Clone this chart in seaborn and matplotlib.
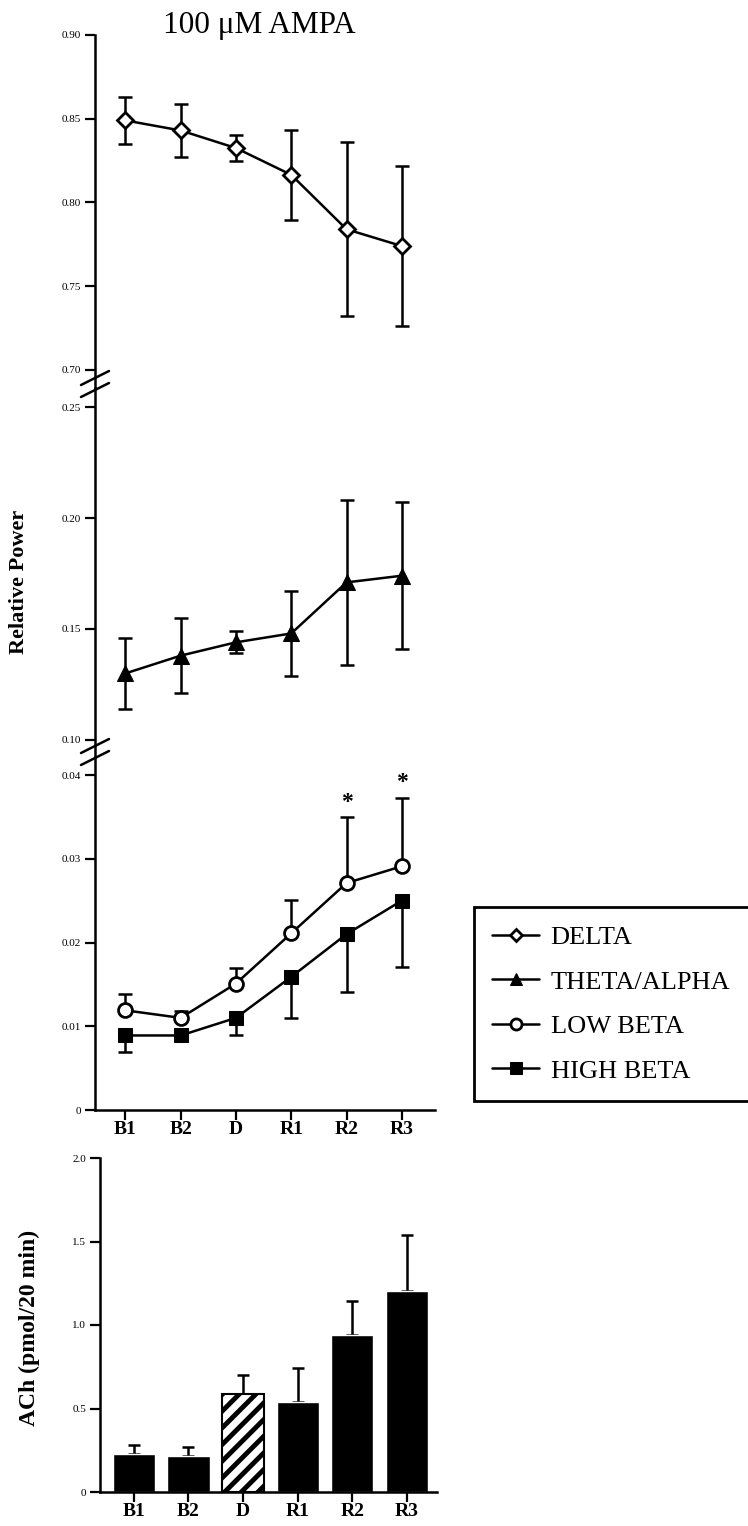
import numpy as np
import pandas as pd
import matplotlib
matplotlib.use("Agg")
import matplotlib.pyplot as plt
import seaborn as sns
from matplotlib.lines import Line2D

# ---------------- data ----------------
periods = ["B1", "B2", "D", "R1", "R2", "R3"]
delta_mean = [0.849, 0.843, 0.8325, 0.8165, 0.784, 0.774]
delta_sem = [0.014, 0.016, 0.008, 0.027, 0.052, 0.048]
theta_mean = [0.130, 0.138, 0.144, 0.148, 0.171, 0.174]
theta_sem = [0.016, 0.017, 0.005, 0.019, 0.037, 0.033]
lowbeta_mean = [0.0119, 0.0110, 0.0151, 0.0211, 0.0271, 0.0291]
lowbeta_sem = [0.0020, 0.0008, 0.0019, 0.0040, 0.0079, 0.0082]
highbeta_mean = [0.0089, 0.0089, 0.0110, 0.0159, 0.0210, 0.0250]
highbeta_sem = [0.0020, 0.0005, 0.0021, 0.0049, 0.0069, 0.0079]
ach_mean = [0.230, 0.214, 0.584, 0.536, 0.940, 1.204]
ach_sem = [0.050, 0.056, 0.116, 0.204, 0.206, 0.336]
significant = ["R2", "R3"]
drug_period = "D"
legend_labels = ["DELTA", "THETA/ALPHA", "LOW BETA", "HIGH BETA"]

delta_ticks = [0.70, 0.75, 0.80, 0.85, 0.90]
delta_ticklabels = ["0.70", "0.75", "0.80", "0.85", "0.90"]
theta_ticks = [0.10, 0.15, 0.20, 0.25]
theta_ticklabels = ["0.10", "0.15", "0.20", "0.25"]
beta_ticks = [0.0, 0.01, 0.02, 0.03, 0.04]
beta_ticklabels = ["0", "0.01", "0.02", "0.03", "0.04"]
ach_ticks = [0.0, 0.5, 1.0, 1.5, 2.0]
ach_ticklabels = ["0", "0.5", "1.0", "1.5", "2.0"]

title = "100 \u03bcM AMPA"
ylabel_power = "Relative Power"
ylabel_ach = "ACh (pmol/20 min)"

# ---------------- style ----------------
sns.set_theme(style="white")
plt.rcParams["font.family"] = ["Liberation Serif", "DejaVu Serif"]
plt.rcParams["hatch.linewidth"] = 3.5
plt.rcParams["axes.linewidth"] = 1.8

W, H = 748, 1526
fig = plt.figure(figsize=(W / 100, H / 100), dpi=100)

def fx(px):
    return px / W

def fy(px):
    return 1 - px / H

x = np.arange(len(periods))
df = pd.DataFrame({"x": x, "delta": delta_mean, "theta": theta_mean,
                   "low": lowbeta_mean, "high": highbeta_mean,
                   "period": periods, "ach": ach_mean})

left_px = 95
xlim = (-0.55, 5.6)
width_px = 340

ax1 = fig.add_axes([fx(left_px), fy(388), fx(width_px), (388 - 35) / H])
ax2 = fig.add_axes([fx(left_px), fy(757), fx(width_px), (757 - 388) / H])
ax3 = fig.add_axes([fx(left_px), fy(1110), fx(width_px), (1110 - 757) / H])
ax4 = fig.add_axes([fx(100), fy(1492), fx(337), (1492 - 1158) / H])

LW = 1.8
XT_SIZE = 14
handles = []

def style_axis(ax, ticks, ticklabels, ylim, show_bottom):
    ax.set_ylim(*ylim)
    ax.set_xlim(*xlim)
    ax.set_yticks(ticks)
    ax.set_yticklabels(ticklabels)
    for s in ["top", "right"]:
        ax.spines[s].set_visible(False)
    ax.spines["left"].set_color("black")
    ax.spines["left"].set_linewidth(LW)
    ax.tick_params(axis="y", direction="out", length=7, width=1.6,
                   labelsize=8, pad=3, left=True, colors="black")
    ax.set_xlabel("")
    ax.set_ylabel("")
    if show_bottom:
        ax.spines["bottom"].set_color("black")
        ax.spines["bottom"].set_linewidth(LW)
        ax.set_xticks(x)
        ax.set_xticklabels(periods, fontweight="bold")
        ax.tick_params(axis="x", direction="out", length=7, width=1.6,
                       labelsize=XT_SIZE, pad=1, bottom=True, colors="black")
    else:
        ax.spines["bottom"].set_visible(False)
        ax.set_xticks([])
    ax.patch.set_alpha(0)

# Panel 1: delta
sns.lineplot(data=df, x="x", y="delta", ax=ax1, color="black", lw=LW,
             marker="D", markersize=8, markerfacecolor="white",
             markeredgecolor="black", markeredgewidth=2, zorder=3)
handles.append(ax1.lines[0])
ax1.errorbar(x, delta_mean, yerr=delta_sem, fmt="none", ecolor="black",
             elinewidth=LW, capsize=5, capthick=LW, zorder=2)
style_axis(ax1, delta_ticks, delta_ticklabels, (0.68925, 0.90), False)

# Panel 2: theta/alpha
sns.lineplot(data=df, x="x", y="theta", ax=ax2, color="black", lw=LW,
             marker="^", markersize=11, markerfacecolor="black",
             markeredgecolor="black", zorder=3)
handles.append(ax2.lines[0])
ax2.errorbar(x, theta_mean, yerr=theta_sem, fmt="none", ecolor="black",
             elinewidth=LW, capsize=5, capthick=LW, zorder=2)
style_axis(ax2, theta_ticks, theta_ticklabels, (0.09234, 0.25856), False)

# Panel 3: low / high beta
zeros = np.zeros(len(periods))
sns.lineplot(data=df, x="x", y="high", ax=ax3, color="black", lw=LW,
             marker="s", markersize=10, markerfacecolor="black",
             markeredgecolor="black", zorder=3)
high_line = ax3.lines[0]
ax3.errorbar(x, highbeta_mean, yerr=[highbeta_sem, zeros], fmt="none",
             ecolor="black", elinewidth=LW, capsize=5, capthick=LW, zorder=2)
sns.lineplot(data=df, x="x", y="low", ax=ax3, color="black", lw=LW,
             marker="o", markersize=10, markerfacecolor="white",
             markeredgecolor="black", markeredgewidth=2, zorder=4)
low_line = [l for l in ax3.lines if l.get_marker() == "o"][0]
ax3.errorbar(x, lowbeta_mean, yerr=[zeros, lowbeta_sem], fmt="none",
             ecolor="black", elinewidth=LW, capsize=5, capthick=LW, zorder=2)
handles.append(low_line)
handles.append(high_line)
for p in significant:
    i = periods.index(p)
    ax3.annotate("*", (x[i], lowbeta_mean[i] + lowbeta_sem[i]),
                 xytext=(0, 3), textcoords="offset points",
                 ha="center", va="bottom", fontsize=17, fontweight="bold",
                 color="black")
style_axis(ax3, beta_ticks, beta_ticklabels, (0.0, 0.04215), True)

# Panel 4: ACh bars
sns.barplot(data=df, x="period", y="ach", ax=ax4, color="black",
            width=0.77, saturation=1, errorbar=None)
di = periods.index(drug_period)
bar = ax4.patches[di]
bar.set_facecolor("white")
bar.set_edgecolor("black")
bar.set_hatch("//")
bar.set_linewidth(1.5)
ax4.errorbar(x, ach_mean, yerr=[zeros, ach_sem], fmt="none", ecolor="black",
             elinewidth=LW, capsize=4.5, capthick=LW, zorder=1)
for p in ax4.patches:
    p.set_zorder(2)
ax4.set_xlim(-0.62, 5.55)
ax4.set_ylim(0, 2.0)
ax4.set_yticks(ach_ticks)
ax4.set_yticklabels(ach_ticklabels)
ax4.set_xticks(x)
ax4.set_xticklabels(periods, fontweight="bold")
for s in ["top", "right"]:
    ax4.spines[s].set_visible(False)
for s in ["left", "bottom"]:
    ax4.spines[s].set_color("black")
    ax4.spines[s].set_linewidth(LW)
ax4.tick_params(axis="y", direction="out", length=7, width=1.6,
                labelsize=8, pad=3, left=True, colors="black")
ax4.tick_params(axis="x", direction="out", length=7, width=1.6,
                labelsize=XT_SIZE, pad=1, bottom=True, colors="black")
ax4.set_xlabel("")
ax4.set_ylabel("")

# break marks on the shared y axis
for yc in (384, 752):
    for dy in (-6, 6):
        fig.add_artist(Line2D([fx(81), fx(109)],
                              [fy(yc + dy + 7), fy(yc + dy - 7)],
                              color="black", lw=1.8))

# texts
fig.text(fx(259), fy(25), title, ha="center", va="center", fontsize=22.5,
         color="black")
fig.text(fx(19), fy(582), ylabel_power, rotation=90, ha="center",
         va="center", fontsize=16, fontweight="bold", color="black")
fig.text(fx(29), fy(1328), ylabel_ach, rotation=90, ha="center",
         va="center", fontsize=17, fontweight="bold", color="black")

leg = fig.legend(handles, legend_labels, loc="upper left",
                 bbox_to_anchor=(fx(474), fy(907)), frameon=True,
                 fancybox=False, edgecolor="black", framealpha=1,
                 fontsize=19, handlelength=1.75, handletextpad=0.45,
                 labelspacing=0.8, borderpad=0.7, borderaxespad=0,
                 markerscale=0.8)
leg.get_frame().set_linewidth(2)
for t in leg.get_texts():
    t.set_color("black")

fig.savefig("out.png", dpi=100)
